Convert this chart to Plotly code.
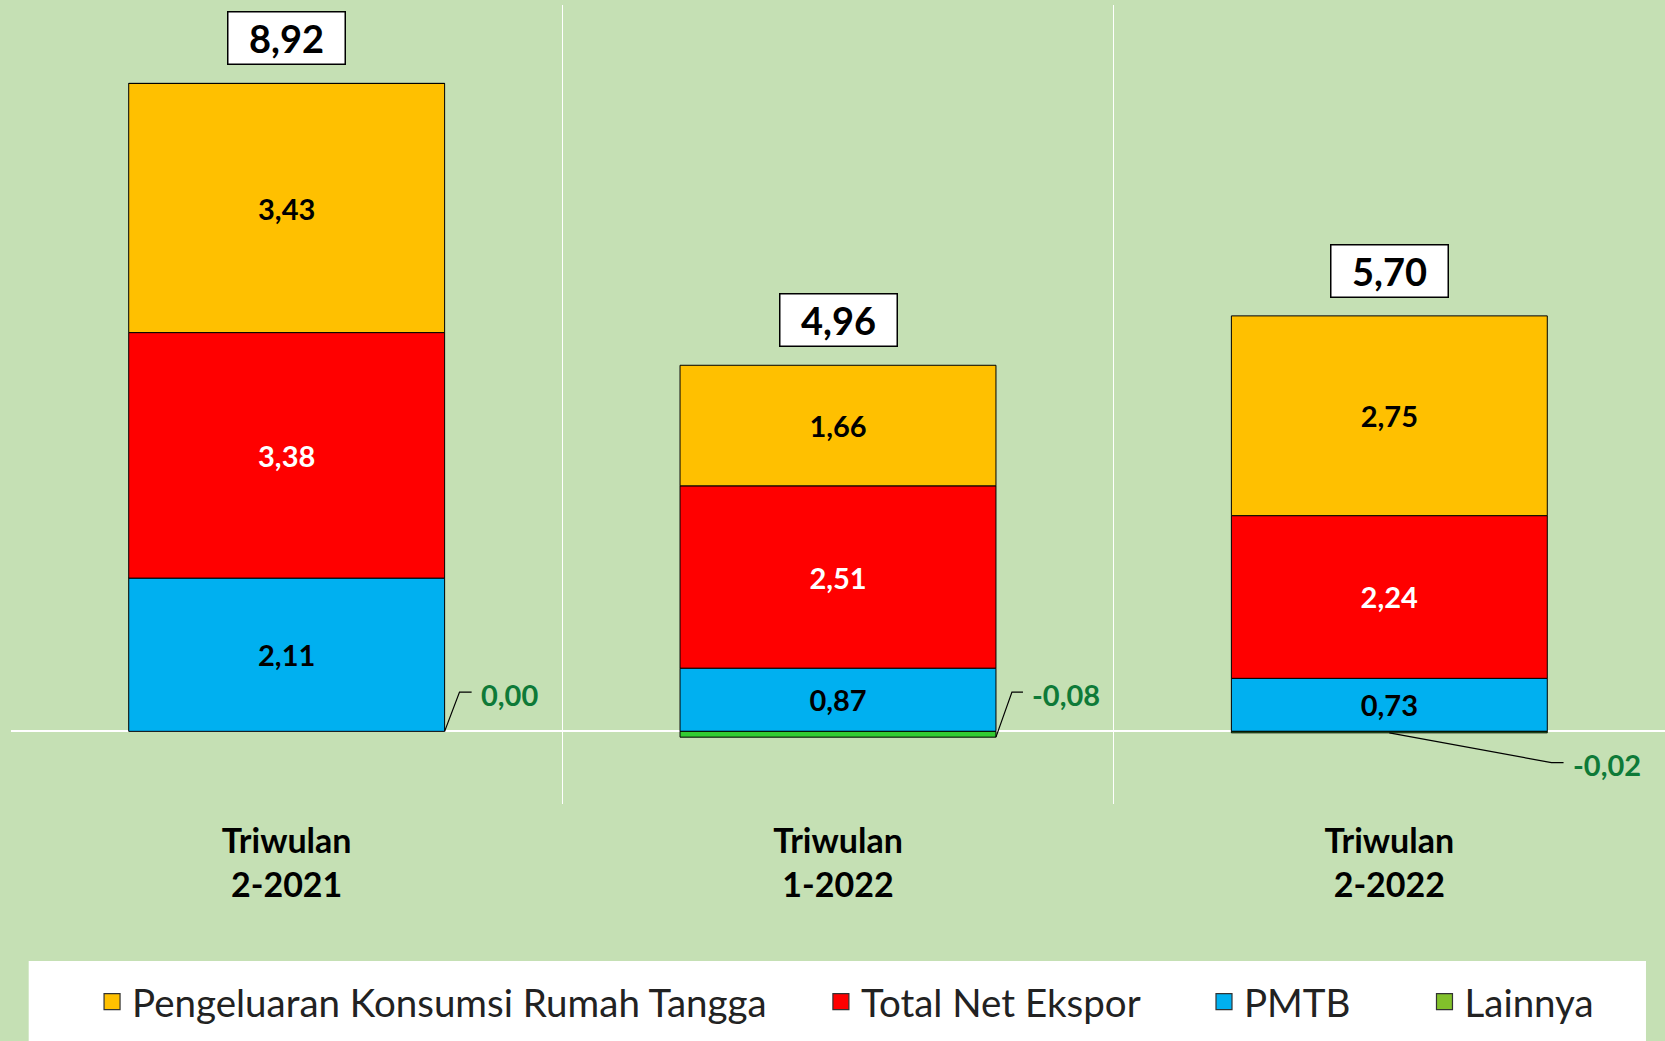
import plotly.graph_objects as go

# ---------------- data ----------------
categories = ["2-2021", "1-2022", "2-2022"]
konsumsi_rt = [3.43, 1.66, 2.75]      # Pengeluaran Konsumsi Rumah Tangga
net_ekspor = [3.38, 2.51, 2.24]       # Total Net Ekspor
pmtb = [2.11, 0.87, 0.73]             # PMTB
lainnya = [0.00, -0.08, -0.02]        # Lainnya
totals = [8.92, 4.96, 5.70]
legend_names = ["Pengeluaran Konsumsi Rumah Tangga", "Total Net Ekspor", "PMTB", "Lainnya"]

# ---------------- style ----------------
BG = "#C5E0B4"
FONT = "Lato"
C_RT = "#FFC000"
C_NX = "#FF0000"
C_PMTB = "#00B0F0"
C_LAIN_BAR = "#33CC33"
C_LAIN_LEG = "#82C12B"
C_LAIN_TXT = "#0E7A38"
BAR_W = 0.573
legend_colors = [C_RT, C_NX, C_PMTB, C_LAIN_LEG]
legend_pads = [5, 6, 7, 0]   # trailing spacing after each legend label

def fmt(v):
    return f"{v:.2f}".replace(".", ",")

x = list(range(len(categories)))
ticktext = [f"<b>Triwulan<br>{c}</b>" for c in categories]

fig = go.Figure()

def add_bar(vals, name, color, txtcolor, show_text=True):
    fig.add_trace(go.Bar(
        x=x, y=vals, name=name, width=BAR_W,
        marker=dict(color=color, line=dict(color="black", width=1)),
        text=[fmt(v) for v in vals] if show_text else None,
        textposition="inside" if show_text else "none",
        insidetextanchor="middle", textangle=0,
        insidetextfont=dict(family=FONT, size=29, color=txtcolor, weight="bold"),
        showlegend=False, hoverinfo="skip",
    ))

add_bar(pmtb, "PMTB", C_PMTB, "black")
add_bar(net_ekspor, "Total Net Ekspor", C_NX, "white")
add_bar(konsumsi_rt, "Pengeluaran Konsumsi Rumah Tangga", C_RT, "black")
add_bar(lainnya, "Lainnya", C_LAIN_BAR, "black", show_text=False)

# legend entries (square swatches)
for nm, col, p in zip(legend_names, legend_colors, legend_pads):
    fig.add_trace(go.Scatter(
        x=[None], y=[None], mode="markers",
        name=nm + "\u00a0" * p,
        marker=dict(symbol="square", size=20, color=col, line=dict(color="#333", width=1.2)),
        hoverinfo="skip", showlegend=True,
    ))

# totals boxes
for i, t in enumerate(totals):
    top = pmtb[i] + net_ekspor[i] + konsumsi_rt[i]
    fig.add_annotation(x=i, y=top, xref="x", yref="y", text=f"<b>{fmt(t)}</b>",
                       showarrow=False, yanchor="bottom", yshift=18,
                       font=dict(family=FONT, size=38, color="black"),
                       bgcolor="white", bordercolor="black", borderwidth=1.5,
                       width=114, height=49, borderpad=1)

# Lainnya leader lines and labels
# (start x offset, elbow x offset, end x offset, label x offset, elbow y) in axis units
leaders = [
    (BAR_W / 2, BAR_W / 2 + 0.027, BAR_W / 2 + 0.049, BAR_W / 2 + 0.062, 0.54),
    (BAR_W / 2, BAR_W / 2 + 0.029, BAR_W / 2 + 0.049, BAR_W / 2 + 0.062, 0.54),
    (0.0, 0.294, 0.316, 0.330, -0.43),
]
for i, (sx, ex, endx, lx, ey) in enumerate(leaders):
    y0 = min(lainnya[i], 0)
    fig.add_shape(type="path", xref="x", yref="y",
                  path=f"M {i + sx},{y0} L {i + ex},{ey} L {i + endx},{ey}",
                  line=dict(color="black", width=1.2))
    fig.add_annotation(x=i + lx, y=ey, xref="x", yref="y", text=f"<b>{fmt(lainnya[i])}</b>",
                       showarrow=False, xanchor="left", yanchor="middle", yshift=-2,
                       font=dict(family=FONT, size=29, color=C_LAIN_TXT))

# legend background box
fig.add_shape(type="rect", xref="paper", yref="paper",
              x0=0.0107, x1=0.9885, y0=-0.32, y1=-0.1965,
              fillcolor="white", line=dict(width=0), layer="below")

fig.update_layout(
    width=1665, height=1041,
    paper_bgcolor=BG, plot_bgcolor=BG,
    margin=dict(l=11, r=0, t=5, b=237),
    barmode="relative",
    separators=",.",
    font=dict(family=FONT, color="black"),
    showlegend=True,
    legend=dict(orientation="h", x=0.049, xanchor="left", y=-0.248, yanchor="middle",
                bgcolor="rgba(0,0,0,0)", font=dict(family=FONT, size=38.5, color="#222"),
                traceorder="normal", itemsizing="trace"),
    xaxis=dict(range=[-0.5, 2.5], tickmode="array", tickvals=x, ticktext=ticktext,
               tickfont=dict(family=FONT, size=34, color="black"),
               showgrid=False, zeroline=False, showline=False, ticks="",
               ticklabelstandoff=14,
               minor=dict(tickmode="array", tickvals=[-0.5, 0.5, 1.5, 2.5],
                          showgrid=True, gridcolor="white", gridwidth=1)),
    yaxis=dict(range=[-1, 10], showgrid=False, zeroline=True, zerolinecolor="white",
               zerolinewidth=1.5, showticklabels=False, ticks=""),
)

fig.write_html("out.html", config={"displayModeBar": False},
               post_script="document.body.style.margin='0';document.body.style.overflow='hidden';")
